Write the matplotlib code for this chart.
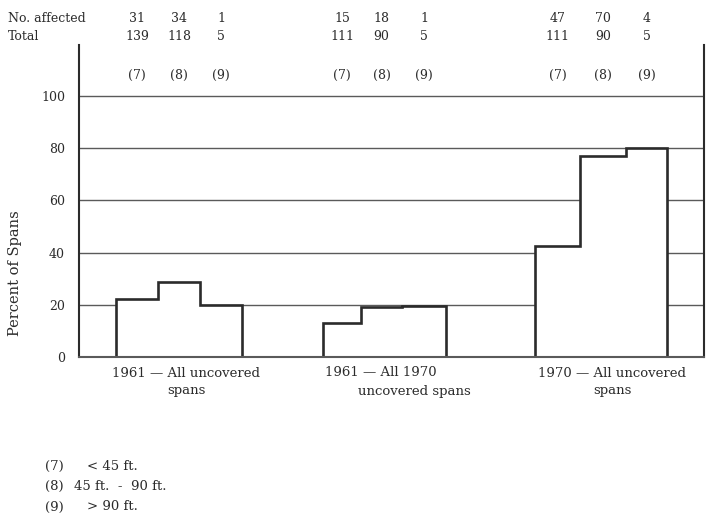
import numpy as np
import matplotlib
matplotlib.use("Agg")
import matplotlib.pyplot as plt
from matplotlib.transforms import blended_transform_factory

# --- data ---
size_classes = ["(7)", "(8)", "(9)"]
affected_1961_all = [31, 34, 1]
total_1961_all = [139, 118, 5]
pct_1961_all = [22.2, 28.6, 20.0]

affected_1961_1970 = [15, 18, 1]
total_1961_1970 = [111, 90, 5]
pct_1961_1970 = [13.2, 19.0, 19.7]

affected_1970_all = [47, 70, 4]
total_1970_all = [111, 90, 5]
pct_1970_all = [42.5, 77.2, 80.0]

group_labels = ["1961 \u2014 All uncovered\nspans",
                "1961 \u2014 All 1970\n        uncovered spans",
                "1970 \u2014 All uncovered\nspans"]
footnotes = [("(7)", "< 45 ft."), ("(8)", "45 ft.  -  90 ft."), ("(9)", "> 90 ft.")]
yticks = [0, 20, 40, 60, 80, 100]

# --- layout ---
INK = "#2b2b2b"
GRID = "#5a5a5a"
FONT = "DejaVu Serif"
plt.rcParams["font.family"] = [FONT]

W, H = 709, 519
fig = plt.figure(figsize=(W / 100, H / 100), dpi=100, facecolor="white")
px = lambda x, y: (x / W, 1 - y / H)
ax_l, ax_r, ax_t, ax_b = 79, 704, 45, 357
ax = fig.add_axes([ax_l / W, 1 - ax_b / H, (ax_r - ax_l) / W, (ax_b - ax_t) / H])

# x axis in pixel units relative to the left spine
ax.set_xlim(0, ax_r - ax_l)
ax.set_ylim(0, (ax_b - ax_t) / 2.61)
group_edges_px = [(116, 158, 200, 242), (323, 361, 402, 446), (535, 580, 626, 667)]

groups = [(affected_1961_all, total_1961_all, pct_1961_all),
          (affected_1961_1970, total_1961_1970, pct_1961_1970),
          (affected_1970_all, total_1970_all, pct_1970_all)]

# gridlines behind the bars
for v in yticks[1:]:
    ax.axhline(v, color=GRID, linewidth=1.0, zorder=1)

tr = blended_transform_factory(ax.transData, ax.transAxes)
for g, (aff, tot, pct) in enumerate(groups):
    edges = np.array(group_edges_px[g], dtype=float) - ax_l
    ax.stairs(pct, edges, baseline=0, fill=True, color="white", zorder=2)
    ax.stairs(pct, edges, baseline=0, color=INK, linewidth=1.9, zorder=3)
    centers = (edges[:-1] + edges[1:]) / 2
    for c, a, t, lab in zip(centers, aff, tot, size_classes):
        ax.text(c, (ax_b - 18) / (ax_b - ax_t), str(a), transform=tr, ha="center",
                va="center", fontsize=9, color=INK)
        ax.text(c, (ax_b - 37) / (ax_b - ax_t), str(t), transform=tr, ha="center",
                va="center", fontsize=9, color=INK)
        ax.text(c, 108, lab, ha="center", va="center", fontsize=9, color=INK)

# group labels under the axis
label_x = [186, 0, 612]
for g, lab in enumerate(group_labels):
    if g == 1:
        l1, l2 = lab.split("\n")
        fig.text(*px(325, 372), l1, ha="left", va="center", fontsize=9.5, color=INK)
        fig.text(*px(358, 392), l2.strip(), ha="left", va="center", fontsize=9.5, color=INK)
    else:
        fig.text(*px(label_x[g], 382), lab, ha="center", va="center", fontsize=9.5,
                 color=INK, linespacing=1.45)

fig.text(*px(8, 18), "No. affected", ha="left", va="center", fontsize=9, color=INK)
fig.text(*px(8, 37), "Total", ha="left", va="center", fontsize=9, color=INK)

ax.set_yticks(yticks)
ax.set_yticklabels([str(v) for v in yticks], fontsize=9, color=INK)
ax.tick_params(axis="y", length=0, pad=10)
ax.set_xticks([])
for s in ["left", "right", "bottom"]:
    ax.spines[s].set_color(INK)
    ax.spines[s].set_linewidth(1.5)
ax.spines["bottom"].set_color(GRID)
ax.spines["top"].set_visible(False)
ax.spines["bottom"].set_zorder(4)

fig.text(*px(15, 273), "Percent of Spans", rotation=90, ha="center", va="center",
         fontsize=10.5, color=INK)

note_x = [87, 74, 87]
for i, (k, txt) in enumerate(footnotes):
    y = 466 + 20.5 * i
    fig.text(*px(45, y), k, ha="left", va="center", fontsize=9.5, color=INK)
    fig.text(*px(note_x[i], y), txt, ha="left", va="center", fontsize=9.5, color=INK)

fig.savefig("out.png", dpi=100, facecolor="white")
